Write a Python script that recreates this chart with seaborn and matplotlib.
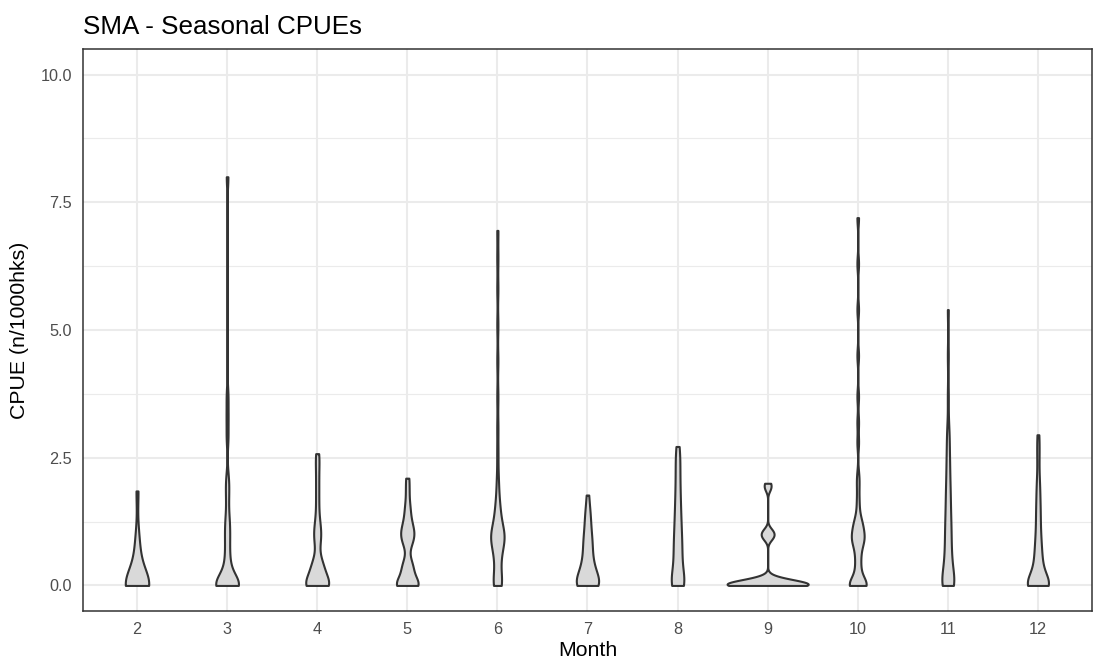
import numpy as np
import pandas as pd
import matplotlib
matplotlib.use("Agg")
import matplotlib.pyplot as plt
from matplotlib.ticker import MultipleLocator
import seaborn as sns

# CPUE observations (n/1000 hooks) per month
months = ["2", "3", "4", "5", "6", "7", "8", "9", "10", "11", "12"]

cpue_m2 = [0.0] * 11 + [0.3, 0.5, 0.7, 1.0, 1.85]
cpue_m3 = [0.0] * 12 + [0.1, 0.2, 0.3, 0.45, 0.55, 0.75, 0.9, 1.05, 1.2, 1.35,
                        1.65, 1.9, 2.1, 2.9, 3.3, 3.7, 8.0]
cpue_m4 = [0.0] * 10 + [0.1, 0.2, 0.25, 0.3, 0.35, 0.4, 0.45, 0.5, 0.8, 0.9, 1.0,
                        1.1, 1.2, 1.4, 1.65, 1.9, 2.15, 2.4, 2.58]
cpue_m5 = [0.0] * 7 + [0.1, 0.2, 0.3, 0.35, 0.4, 0.5, 0.8, 0.85, 0.95, 1.0, 1.05,
                       1.1, 1.2, 1.3, 1.45, 1.6, 1.85, 2.1]
cpue_m6 = [0.0] * 5 + [0.1, 0.2, 0.3, 0.4, 0.5, 0.6, 0.65, 0.7, 0.8, 0.85, 0.9, 0.9,
                       0.95, 0.95, 1.0, 1.0, 1.05, 1.05, 1.1, 1.2, 1.3, 1.4, 1.45,
                       1.55, 1.7, 1.9, 2.15, 2.6, 3.1, 3.7, 4.4, 5.1, 5.8, 6.4, 6.95]
cpue_m7 = [0.0] * 9 + [0.1, 0.1, 0.2, 0.2, 0.3, 0.3, 0.4, 0.4, 0.5, 0.6, 0.68, 0.76,
                       0.84, 0.92, 1.0, 1.12, 1.25, 1.38, 1.5, 1.77]
cpue_m8 = [0.0] * 6 + [0.08, 0.15, 0.22, 0.3, 0.44, 0.52, 0.6, 0.68, 0.77, 0.86, 0.95,
                       1.05, 1.15, 1.26, 1.38, 1.5, 1.63, 1.77, 1.92, 2.08, 2.25, 2.42,
                       2.58, 2.72]
cpue_m9 = [0.0] * 13 + [0.05] * 5 + [0.1] * 3 + [0.15, 0.92, 0.97, 1.03, 1.08, 1.9, 2.0]
cpue_m10 = [0.0] * 9 + [0.1, 0.2, 0.3, 0.4, 0.5, 0.6, 0.7, 0.8, 0.85, 0.9, 0.9, 0.95,
                        1.0, 1.0, 1.1, 1.15, 1.2, 1.25, 1.3, 1.5, 1.7, 1.95, 2.15, 2.8,
                        3.2, 3.7, 4.5, 5.4, 6.3, 7.2]
cpue_m11 = [0.0] * 8 + [0.07, 0.13, 0.2, 0.27, 0.33, 0.4, 0.47, 0.53, 0.6, 0.69, 0.78,
                        0.86, 0.95, 1.03, 1.12, 1.2, 1.29, 1.39, 1.5, 1.61, 1.72, 1.83,
                        1.94, 2.08, 2.23, 2.38, 2.53, 2.72, 2.92, 3.1, 3.7, 4.5, 5.4]
cpue_m12 = [0.0] * 13 + [0.06, 0.12, 0.18, 0.24, 0.3, 0.36, 0.42, 0.48, 0.56, 0.64,
                         0.72, 0.8, 0.9, 1.0, 1.12, 1.25, 1.38, 1.5, 1.64, 1.8, 1.95,
                         2.15, 2.45, 2.7, 2.95]

cpue_by_month = [cpue_m2, cpue_m3, cpue_m4, cpue_m5, cpue_m6, cpue_m7,
                 cpue_m8, cpue_m9, cpue_m10, cpue_m11, cpue_m12]

# kernel bandwidth used for each month's density (CPUE units)
kde_bw = [0.3, 0.2, 0.18, 0.15, 0.22, 0.2, 0.25, 0.08, 0.15, 0.25, 0.2]

rows = [(m, v) for m, vals in zip(months, cpue_by_month) for v in vals]
df = pd.DataFrame(rows, columns=["Month", "CPUE"])

# each month has a distinct maximum, use it to find the group's bandwidth
bw_lookup = {round(max(vals), 3): bw for vals, bw in zip(cpue_by_month, kde_bw)}


def month_bw(kde):
    data = np.asarray(kde.dataset).ravel()
    return bw_lookup[round(data.max(), 3)] / data.std(ddof=1)


sns.set_style("white")
plt.rcParams["font.family"] = ["Liberation Sans", "DejaVu Sans"]

fig, ax = plt.subplots(figsize=(11.03, 6.66), dpi=100)
fig.subplots_adjust(left=0.0752, right=0.990, top=0.9264, bottom=0.0826)

sns.violinplot(data=df, x="Month", y="CPUE", order=months, ax=ax,
               density_norm="area", cut=0, inner=None, bw_method=month_bw,
               gridsize=512, width=0.9, color="#D9D9D9", saturation=1,
               linecolor="#333333", linewidth=1.5)

ax.set_xlim(-0.6, len(months) - 0.4)
ax.set_ylim(-0.5, 10.5)
ax.set_yticks([0, 2.5, 5, 7.5, 10])
ax.set_yticklabels(["0.0", "2.5", "5.0", "7.5", "10.0"])
ax.yaxis.set_minor_locator(MultipleLocator(1.25))

ax.set_axisbelow(True)
ax.grid(which="major", color="#EBEBEB", linewidth=1.5)
ax.grid(which="minor", axis="y", color="#EBEBEB", linewidth=0.8)
for sp in ax.spines.values():
    sp.set_visible(True)
    sp.set_color("#333333")
    sp.set_linewidth(1.1)

ax.tick_params(which="major", length=4, width=1.0, color="#333333",
               labelsize=11.7, labelcolor="#4D4D4D", pad=4)
ax.tick_params(which="minor", length=0)

ax.set_xlabel("Month", fontsize=15.3, color="black", labelpad=3)
ax.set_ylabel("CPUE (n/1000hks)", fontsize=15.3, color="black", labelpad=8)
ax.set_title("SMA - Seasonal CPUEs", loc="left", fontsize=18.7, color="black", pad=11)

fig.savefig("out.png", dpi=100)
